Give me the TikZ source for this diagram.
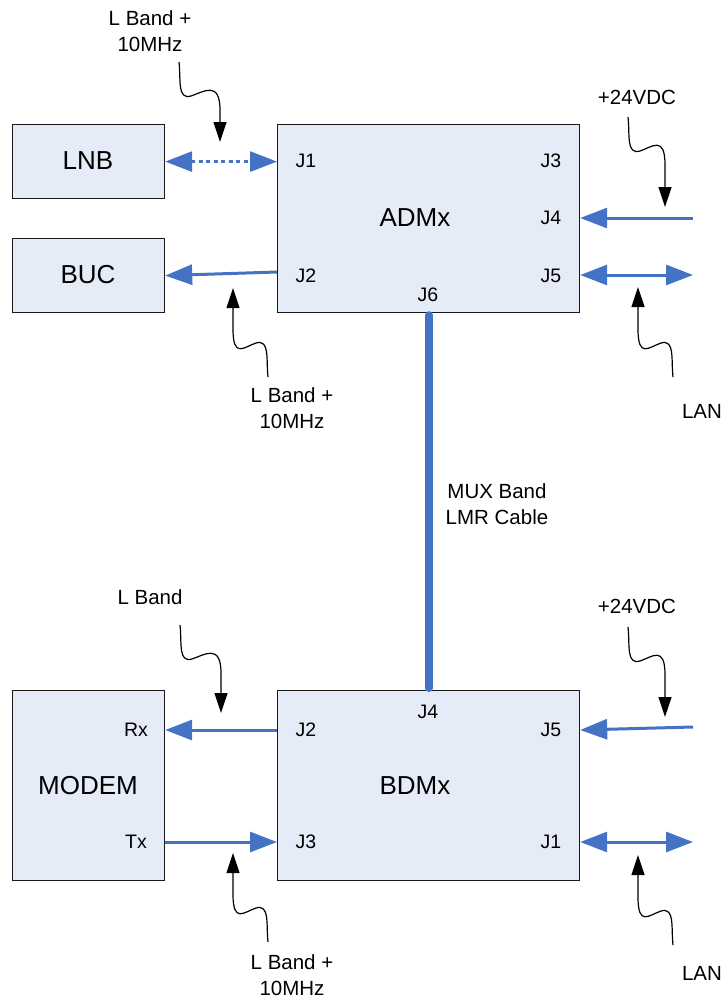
\documentclass[tikz,border=0pt]{standalone}
\usepackage{fontspec}
\setmainfont{Liberation Sans}
\usetikzlibrary{arrows.meta,calc}
\definecolor{lnblue}{HTML}{4472C4}
\definecolor{boxfill}{HTML}{E6ECF7}
\newcommand\squig[5]{%
  \begin{scope}[shift={#2},rotate=#3]
    \coordinate (#1s) at (0,0);
    \coordinate (#1t) at (#4,#5);
    \draw[callout] (#1s) .. controls (2,18) and (-2,38) .. (12,34)
      .. controls (24,30) and (#4,18) .. (#4,48) -- (#1t);
  \end{scope}}
\begin{document}
\begin{tikzpicture}[x=1pt,y=-1pt,
  blk/.style={draw=black!90, line width=1.2pt, fill=boxfill, anchor=north west, inner sep=0pt},
  big/.style={font=\fontsize{26}{30}\selectfont},
  jl/.style={font=\fontsize{19.5}{22}\selectfont, inner sep=0pt},
  ct/.style={font=\fontsize{20.5}{25.5}\selectfont, align=center, inner sep=0pt},
  bl/.style={draw=lnblue, line width=3pt},
  tip/.tip={Triangle[length=27pt,width=20pt]},
  callout/.style={draw=black, line width=1.2pt, -{Triangle[length=20pt,width=13pt]}},
  bus/.style={draw=lnblue, line width=8pt, line cap=round}]
\useasboundingbox (0,0) rectangle (723,998);
% boxes
\node[blk, minimum width=152, minimum height=74] (lnb) at (12,124) {};
\node[blk, minimum width=152, minimum height=74] (buc) at (12,238) {};
\node[blk, minimum width=302, minimum height=188] (admx) at (277,124) {};
\node[blk, minimum width=152, minimum height=190] (modem) at (12,690) {};
\node[blk, minimum width=302, minimum height=190] (bdmx) at (277,690) {};
% box labels
\node[big] (tlnb) at (88,161) {LNB};
\node[big] (tbuc) at (88,275) {BUC};
\node[big] (tadmx) at (415,218) {ADMx};
\node[big] (tmodem) at (88,786) {MODEM};
\node[big] (tbdmx) at (415,786) {BDMx};
% port labels
\node[jl] (aj1) at (306,161) {J1};
\node[jl] (aj2) at (306,276) {J2};
\node[jl] (aj3) at (551,161) {J3};
\node[jl] (aj4) at (551,218) {J4};
\node[jl] (aj5) at (551,276) {J5};
\node[jl] (aj6) at (428,295) {J6};
\node[jl] (rx) at (136,730) {Rx};
\node[jl] (tx) at (136,842) {Tx};
\node[jl] (bj2) at (306,730) {J2};
\node[jl] (bj3) at (306,842) {J3};
\node[jl] (bj4) at (428,712) {J4};
\node[jl] (bj5) at (551,730) {J5};
\node[jl] (bj1) at (551,842) {J1};
% free ends
\coordinate (pa) at (693,218);
\coordinate (la) at (693,275);
\coordinate (pb) at (693,727);
\coordinate (lb) at (693,842);
% connectors
\draw[bl, dash pattern=on 4pt off 3.5pt, {tip}-{tip}] (lnb.east) -- (lnb.east -| admx.west);
\draw[bl, -{tip}] ($(admx.west |- aj2)+(0,-4)$) -- (buc.east);
\draw[bl, -{tip}] (pa) -- (pa -| admx.east);
\draw[bl, {tip}-{tip}] (la -| admx.east) -- (la);
\draw[bus] ($(admx.south)+(0,2)$) -- ($(bdmx.north)+(0,-2)$);
\draw[bl, -{tip}] (bdmx.west |- rx) -- (modem.east |- rx);
\draw[bl, -{tip}] (modem.east |- tx) -- (bdmx.west |- tx);
\draw[bl, -{tip}] (pb) -- (bdmx.east |- bj5);
\draw[bl, {tip}-{tip}] (lb -| bdmx.east) -- (lb);
\node[ct] (mux) at (497,504) {MUX Band\\LMR Cable};
% callouts
\node[ct] (c1) at (150,31) {L Band +\\10MHz};
\node[ct] (c2) at (292,408) {L Band +\\10MHz};
\node[ct] (c3) at (637,97) {+24VDC};
\node[ct] (c4) at (702,411) {LAN};
\node[ct] (c5) at (150,597) {L Band};
\node[ct] (c6) at (637,606) {+24VDC};
\node[ct] (c7) at (702,973) {LAN};
\node[ct] (c8) at (292,975) {L Band +\\10MHz};
\squig{q1}{(179,62)}{0}{41}{80}
\squig{q2}{(268,377)}{180}{35}{89}
\squig{q3}{(628,117)}{0}{37}{90}
\squig{q4}{(673,377)}{180}{35}{90}
\squig{q5}{(180,625)}{0}{41}{88}
\squig{q6}{(628,627)}{0}{37}{90}
\squig{q7}{(673,945)}{180}{35}{90}
\squig{q8}{(268,942)}{180}{35}{89}
\end{tikzpicture}
\end{document}
